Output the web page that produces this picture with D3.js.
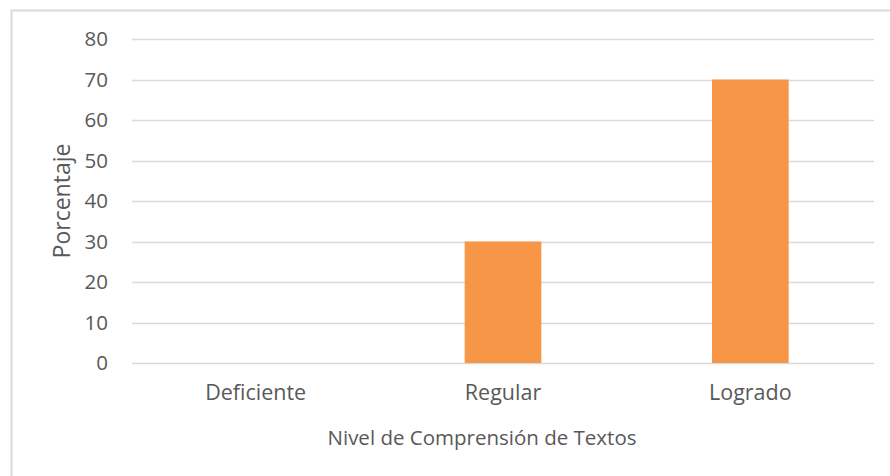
<!DOCTYPE html>
<html>
<head>
<meta charset="utf-8">
<script src="https://cdn.jsdelivr.net/npm/d3@7"></script>
<style>
  html, body { margin: 0; padding: 0; background: #fff; }
  text { font-family: "Open Sans", sans-serif; fill: #595959; }
</style>
</head>
<body>
<div id="chart"></div>
<script>

  //Chart data
    var categories = ["Deficiente", "Regular", "Logrado"];
    var values = [0, 30, 70];
    var yTicks = [0, 10, 20, 30, 40, 50, 60, 70, 80];
    var xTitle = "Nivel de Comprensión de Textos";
    var yTitle = "Porcentaje";


  //**************************************************************************
  //** render
  //**************************************************************************
    var render = function(){

        var width = 890, height = 476;
        var margin = {left: 132, right: 16, top: 39, bottom: 113};

        var svg = d3.select("#chart").append("svg")
          .attr("width", width)
          .attr("height", height);

      //Chart frame (only top and left edges are visible)
        svg.append("rect")
          .attr("x", 11.5)
          .attr("y", 10.5)
          .attr("width", width)
          .attr("height", height)
          .style("fill", "none")
          .style("stroke", "#d9d9d9")
          .style("stroke-width", 2);

        var x = d3.scaleBand()
          .domain(categories)
          .range([margin.left, width - margin.right])
          .paddingInner(0.69)
          .paddingOuter(0.345);

        var y = d3.scaleLinear()
          .domain([0, 80])
          .range([height - margin.bottom, margin.top]);


      //Gridlines
        svg.append("g")
          .selectAll("line")
          .data(yTicks)
          .enter().append("line")
          .attr("x1", margin.left)
          .attr("x2", width - margin.right)
          .attr("y1", function(d){ return Math.round(y(d)) + 0.5; })
          .attr("y2", function(d){ return Math.round(y(d)) + 0.5; })
          .style("stroke", "#d9d9d9")
          .style("stroke-width", 1.5);


      //Bars
        svg.append("g")
          .selectAll("rect")
          .data(values)
          .enter().append("rect")
          .attr("x", function(d, i){ return x(categories[i]); })
          .attr("y", function(d){ return y(d); })
          .attr("width", x.bandwidth())
          .attr("height", function(d){ return y(0) - y(d); })
          .style("fill", "#f79646");


      //Y axis labels
        var yAxis = d3.axisLeft(y)
          .tickValues(yTicks)
          .tickSize(0)
          .tickPadding(24);

        var gy = svg.append("g")
          .attr("transform", "translate(" + margin.left + ",0)")
          .call(yAxis);
        gy.select(".domain").remove();
        gy.selectAll("text")
          .style("font-size", "20.5px")
          .style("fill", "#595959")
          .style("font-family", "Open Sans");


      //X axis labels
        var xAxis = d3.axisBottom(x)
          .tickSize(0)
          .tickPadding(22);

        var gx = svg.append("g")
          .attr("transform", "translate(0," + y(0) + ")")
          .call(xAxis);
        gx.select(".domain").remove();
        gx.selectAll("text")
          .style("font-size", "21.5px")
          .style("fill", "#595959")
          .style("font-family", "Open Sans");


      //Axis titles
        svg.append("text")
          .attr("x", 482)
          .attr("y", 445)
          .attr("text-anchor", "middle")
          .style("font-size", "20.5px")
          .text(xTitle);

        svg.append("text")
          .attr("transform", "translate(70," + y(40) + ") rotate(-90)")
          .attr("text-anchor", "middle")
          .style("font-size", "23px")
          .text(yTitle);
    };

    render();

</script>
</body>
</html>
